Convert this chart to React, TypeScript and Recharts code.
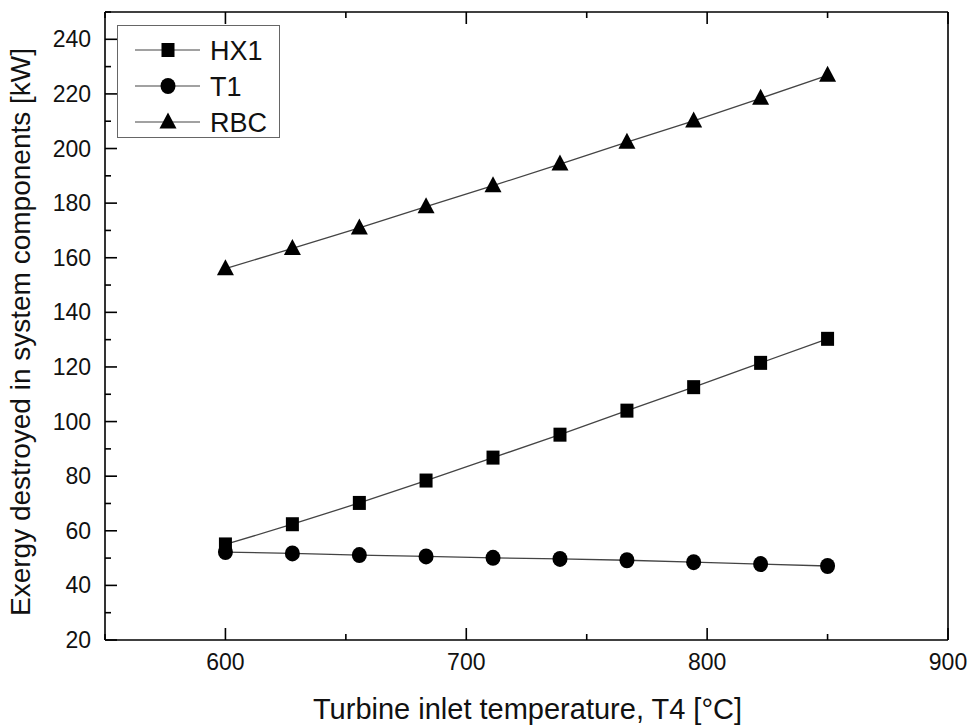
import React from "react";
import { LineChart, Line, XAxis, YAxis, Legend } from "recharts";

// turbine inlet temperature T4 [°C]
const t4 = [600, 627.8, 655.6, 683.3, 711.1, 738.9, 766.7, 794.4, 822.2, 850];
// exergy destroyed [kW]
const hx1 = [55.0, 62.4, 70.2, 78.4, 86.8, 95.2, 104.0, 112.6, 121.5, 130.3];
const t1 = [52.2, 51.7, 51.1, 50.6, 50.1, 49.7, 49.2, 48.5, 47.8, 47.1];
const rbc = [156.0, 163.4, 170.9, 178.7, 186.4, 194.3, 202.3, 210.1, 218.4, 226.8];

const xTicks = [550, 600, 650, 700, 750, 800, 850, 900];
const yTicks = [20, 30, 40, 50, 60, 70, 80, 90, 100, 110, 120, 130, 140, 150, 160, 170, 180, 190, 200, 210, 220, 230, 240, 250];

const data = t4.map((t, i) => ({ t4: t, hx1: hx1[i], t1: t1[i], rbc: rbc[i] }));

const FONT = "'Liberation Sans', Arial, Helvetica, sans-serif";
const INK = "#000";
const LINE = "#444";

type Shape = "square" | "circle" | "triangle";

const series: { key: string; name: string; shape: Shape }[] = [
  { key: "hx1", name: "HX1", shape: "square" },
  { key: "t1", name: "T1", shape: "circle" },
  { key: "rbc", name: "RBC", shape: "triangle" },
];

function Marker({ cx, cy, shape }: { cx: number; cy: number; shape: Shape }) {
  if (shape === "square") return <rect x={cx - 6.5} y={cy - 7} width={13} height={14} fill={INK} />;
  if (shape === "circle") return <ellipse cx={cx} cy={cy} rx={7.5} ry={8} fill={INK} />;
  return <polygon points={`${cx},${cy - 9.5} ${cx - 8.5},${cy + 6.5} ${cx + 8.5},${cy + 6.5}`} fill={INK} />;
}

const dotFor = (shape: Shape) => (p: any) => (
  <Marker key={`${shape}-${p.index}`} cx={p.cx} cy={p.cy} shape={shape} />
);

// inward pointing ticks, labelled only on the major values
const MAJOR = 12;
const MINOR = 6;
const tickFor = (side: "bottom" | "top" | "left" | "right", every: number) => (p: any) => {
  const { x, y, payload } = p;
  const v = payload.value;
  const major = v % every === 0;
  const len = major ? MAJOR : MINOR;
  let line;
  if (side === "bottom") line = <line x1={x} x2={x} y1={y} y2={y - len} stroke={INK} strokeWidth={1.6} />;
  else if (side === "top") line = <line x1={x} x2={x} y1={y} y2={y + len} stroke={INK} strokeWidth={1.6} />;
  else if (side === "left") line = <line x1={x} x2={x + len} y1={y} y2={y} stroke={INK} strokeWidth={1.6} />;
  else line = <line x1={x} x2={x - len} y1={y} y2={y} stroke={INK} strokeWidth={1.6} />;
  let label = null;
  if (major && side === "bottom")
    label = (
      <text x={x} y={y + 30} textAnchor="middle" fontSize={23} fontFamily={FONT} fill="#111">
        {v}
      </text>
    );
  if (major && side === "left")
    label = (
      <text x={x - 14} y={y + 8} textAnchor="end" fontSize={23} fontFamily={FONT} fill="#111">
        {v}
      </text>
    );
  return (
    <g>
      {line}
      {label}
    </g>
  );
};

const LegendBox = () => (
  <div style={{ width: 163, height: 113, border: "1px solid #666", background: "#fff", boxSizing: "border-box" }}>
    <svg width={161} height={111}>
      {series.map((s, i) => {
        const cy = 24 + i * 36;
        return (
          <g key={s.key}>
            <line x1={17} x2={82} y1={cy} y2={cy} stroke={LINE} strokeWidth={1.2} />
            <Marker cx={50} cy={cy} shape={s.shape} />
            <text x={92} y={cy + 10} fontSize={27} fontFamily={FONT} fill="#111">
              {s.name}
            </text>
          </g>
        );
      })}
    </svg>
  </div>
);

export default function App() {
  return (
    <div style={{ position: "absolute", left: 0, top: 0, background: "#fff" }}>
      <LineChart width={971} height={726} data={data} margin={{ top: 0, right: 0, left: 0, bottom: 0 }}>
        <XAxis
          xAxisId="b"
          dataKey="t4"
          type="number"
          domain={[550, 900]}
          ticks={xTicks}
          height={86}
          tickSize={0}
          tickMargin={0}
          tickLine={false}
          axisLine={{ stroke: INK, strokeWidth: 1.6 }}
          tick={tickFor("bottom", 100)}
          interval={0}
          label={{
            content: (props: any) => {
              const vb = props.viewBox;
              return (
                <text x={vb.x + vb.width / 2 + 1} y={vb.y + 79} textAnchor="middle" fontSize={29} fontFamily={FONT} fill="#111">
                  Turbine inlet temperature, T4 [°C]
                </text>
              );
            },
          }}
        />
        <XAxis
          xAxisId="t"
          orientation="top"
          dataKey="t4"
          type="number"
          domain={[550, 900]}
          ticks={xTicks}
          height={12}
          tickSize={0}
          tickMargin={0}
          tickLine={false}
          axisLine={{ stroke: INK, strokeWidth: 1.6 }}
          tick={tickFor("top", 100)}
          interval={0}
        />
        <YAxis
          yAxisId="l"
          type="number"
          domain={[20, 250]}
          ticks={yTicks}
          width={105}
          tickSize={0}
          tickMargin={0}
          tickLine={false}
          axisLine={{ stroke: INK, strokeWidth: 1.6 }}
          tick={tickFor("left", 20)}
          interval={0}
          label={{
            content: (props: any) => {
              const vb = props.viewBox;
              const cy = vb.y + vb.height / 2 + 6;
              return (
                <text
                  x={20}
                  y={cy}
                  transform={`rotate(-90, 20, ${cy})`}
                  textAnchor="middle"
                  dominantBaseline="central"
                  fontSize={28}
                  fontFamily={FONT}
                  fill="#111"
                >
                  Exergy destroyed in system components [kW]
                </text>
              );
            },
          }}
        />
        <YAxis
          yAxisId="r"
          orientation="right"
          type="number"
          domain={[20, 250]}
          ticks={yTicks}
          width={23}
          tickSize={0}
          tickMargin={0}
          tickLine={false}
          axisLine={{ stroke: INK, strokeWidth: 1.6 }}
          tick={tickFor("right", 20)}
          interval={0}
        />
        <Legend
          layout="vertical"
          align="center"
          verticalAlign="middle"
          content={() => <LegendBox />}
          wrapperStyle={{ left: 117, top: 25, width: 163, height: 113 }}
        />
        {series.map((s) => (
          <Line
            key={s.key}
            xAxisId="b"
            yAxisId="l"
            type="linear"
            dataKey={s.key}
            name={s.name}
            stroke={LINE}
            strokeWidth={1.3}
            dot={dotFor(s.shape)}
            activeDot={false}
            isAnimationActive={false}
          />
        ))}
      </LineChart>
    </div>
  );
}
